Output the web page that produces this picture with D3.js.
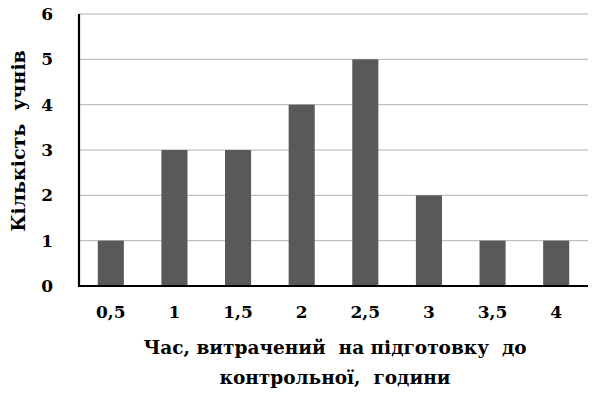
<!DOCTYPE html>
<html>
<head>
<meta charset="utf-8">
<script src="https://cdn.jsdelivr.net/npm/d3@7"></script>
<style>
  body { margin: 0; background: #fff; }
  text { font-family: 'DejaVu Serif', serif; font-weight: bold; fill: #000; white-space: pre; }
</style>
</head>
<body>
<svg id="chart" width="594" height="393"></svg>
<script>
const categories = ['0,5', '1', '1,5', '2', '2,5', '3', '3,5', '4'];
const counts = [1, 3, 3, 4, 5, 2, 1, 1];
const yTicks = [0, 1, 2, 3, 4, 5, 6];
const xTitleLines = ['Час, витрачений  на підготовку  до', 'контрольної,  години'];
const yTitle = 'Кількість  учнів';

const margin = { top: 14, right: 6, bottom: 107, left: 79 };
const width = 594 - margin.left - margin.right;
const height = 393 - margin.top - margin.bottom;

const svg = d3.select('#chart');
const g = svg.append('g').attr('transform', `translate(${margin.left},${margin.top})`);

const x = d3.scaleBand().domain(categories).range([0, width]).paddingInner(0.59).paddingOuter(0.295);
const y = d3.scaleLinear().domain([0, 6]).range([height, 0]);

// gridlines
g.selectAll('line.grid')
  .data(yTicks.filter(t => t > 0))
  .enter().append('line')
    .attr('class', 'grid')
    .attr('x1', 0).attr('x2', width)
    .attr('y1', d => y(d)).attr('y2', d => y(d))
    .attr('stroke', '#b3b3b3').attr('stroke-width', 1);

// bars
g.selectAll('rect.bar')
  .data(counts)
  .enter().append('rect')
    .attr('class', 'bar')
    .attr('x', (d, i) => x(categories[i]))
    .attr('y', d => y(d))
    .attr('width', x.bandwidth())
    .attr('height', d => height - y(d))
    .attr('fill', '#595959');

// axes (labels only, lines drawn below)
const yAxis = g.append('g')
  .call(d3.axisLeft(y).tickValues(yTicks).tickFormat(d3.format('d')).tickSize(0).tickPadding(26));
yAxis.select('.domain').remove();
yAxis.selectAll('text').style('font-size', '17px');

const xAxis = g.append('g')
  .attr('transform', `translate(0,${height})`)
  .call(d3.axisBottom(x).tickSize(0).tickPadding(20));
xAxis.select('.domain').remove();
xAxis.selectAll('text').style('font-size', '17px');

// axis lines
g.append('line')
  .attr('x1', 0).attr('x2', 0)
  .attr('y1', y(6)).attr('y2', y(0))
  .attr('stroke', '#000').attr('stroke-width', 2.2);
g.append('line')
  .attr('x1', -1).attr('x2', width)
  .attr('y1', y(0)).attr('y2', y(0))
  .attr('stroke', '#000').attr('stroke-width', 2.2);

// axis titles
svg.append('text')
  .attr('transform', `translate(25,141) rotate(-90)`)
  .attr('text-anchor', 'middle')
  .style('font-size', '19px')
  .text(yTitle);

svg.append('g').selectAll('text')
  .data(xTitleLines)
  .enter().append('text')
    .attr('x', 335)
    .attr('y', (d, i) => 354 + i * 30)
    .attr('text-anchor', 'middle')
    .style('font-size', '18.5px')
    .text(d => d);
</script>
</body>
</html>
